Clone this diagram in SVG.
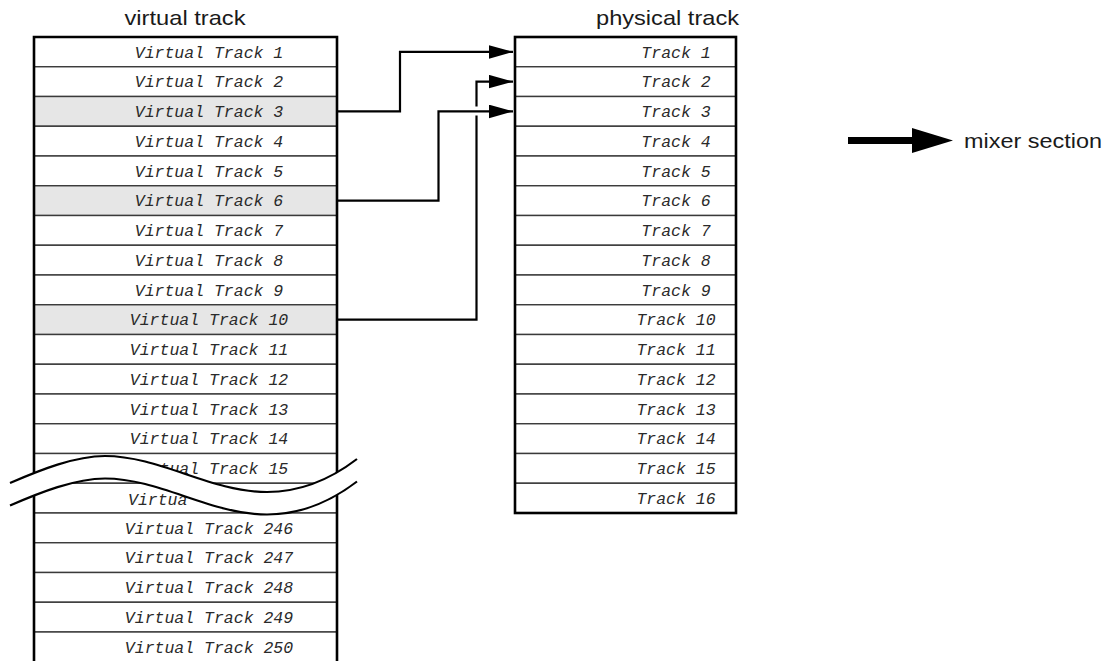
<svg xmlns="http://www.w3.org/2000/svg" width="1115" height="661" viewBox="0 0 1115 661">
  <defs>
    <style>
      .title { font-family: "Liberation Sans", Arial, sans-serif; font-size: 21px; fill: #1a1a1a; }
      .cell { fill: #ffffff; stroke: #3a3a3a; stroke-width: 1.4; }
      .cell.sel { fill: #e6e6e6; }
      .lbl { font-family: "Liberation Mono", "Courier New", monospace; font-style: italic; font-size: 16.5px; fill: #2a2a2a; text-anchor: middle; }
      .frame { fill: none; stroke: #000; stroke-width: 2.6; }
      .wire { fill: none; stroke: #000; stroke-width: 2.2; }
      .brk { fill: none; stroke: #000; stroke-width: 2.2; }
    </style>
    <marker id="head" markerUnits="userSpaceOnUse" markerWidth="26" markerHeight="14" refX="24" refY="6.75" orient="auto">
      <path d="M0,0 L24,6.75 L0,13.5 Z" fill="#000"/>
    </marker>
  </defs>
  <rect width="1115" height="661" fill="#fff"/>

  <!-- column titles -->
  <text class="title" x="185" y="25" text-anchor="middle" textLength="121" lengthAdjust="spacingAndGlyphs">virtual track</text>
  <text class="title" x="667.5" y="25" text-anchor="middle" textLength="143" lengthAdjust="spacingAndGlyphs">physical track</text>

  <!-- virtual track list -->
  <g id="virtual-tracks">
    <g id="vt-1"><rect class="cell" x="34" y="37" width="303" height="29.75"/><text class="lbl" x="209" y="57.7">Virtual Track 1</text></g>
    <g id="vt-2"><rect class="cell" x="34" y="66.75" width="303" height="29.75"/><text class="lbl" x="209" y="87.45">Virtual Track 2</text></g>
    <g id="vt-3"><rect class="cell sel" x="34" y="96.5" width="303" height="29.75"/><text class="lbl" x="209" y="117.2">Virtual Track 3</text></g>
    <g id="vt-4"><rect class="cell" x="34" y="126.25" width="303" height="29.75"/><text class="lbl" x="209" y="146.95">Virtual Track 4</text></g>
    <g id="vt-5"><rect class="cell" x="34" y="156" width="303" height="29.75"/><text class="lbl" x="209" y="176.7">Virtual Track 5</text></g>
    <g id="vt-6"><rect class="cell sel" x="34" y="185.75" width="303" height="29.75"/><text class="lbl" x="209" y="206.45">Virtual Track 6</text></g>
    <g id="vt-7"><rect class="cell" x="34" y="215.5" width="303" height="29.75"/><text class="lbl" x="209" y="236.2">Virtual Track 7</text></g>
    <g id="vt-8"><rect class="cell" x="34" y="245.25" width="303" height="29.75"/><text class="lbl" x="209" y="265.95">Virtual Track 8</text></g>
    <g id="vt-9"><rect class="cell" x="34" y="275" width="303" height="29.75"/><text class="lbl" x="209" y="295.7">Virtual Track 9</text></g>
    <g id="vt-10"><rect class="cell sel" x="34" y="304.75" width="303" height="29.75"/><text class="lbl" x="209" y="325.45">Virtual Track 10</text></g>
    <g id="vt-11"><rect class="cell" x="34" y="334.5" width="303" height="29.75"/><text class="lbl" x="209" y="355.2">Virtual Track 11</text></g>
    <g id="vt-12"><rect class="cell" x="34" y="364.25" width="303" height="29.75"/><text class="lbl" x="209" y="384.95">Virtual Track 12</text></g>
    <g id="vt-13"><rect class="cell" x="34" y="394" width="303" height="29.75"/><text class="lbl" x="209" y="414.7">Virtual Track 13</text></g>
    <g id="vt-14"><rect class="cell" x="34" y="423.75" width="303" height="29.75"/><text class="lbl" x="209" y="444.45">Virtual Track 14</text></g>
    <g id="vt-15"><rect class="cell" x="34" y="453.5" width="303" height="29.75"/><text class="lbl" x="209" y="474.2">Virtual Track 15</text></g>
    <g id="vt-16"><rect class="cell" x="34" y="483.25" width="303" height="29.75"/><text class="lbl" x="128" y="505" style="text-anchor:start">Virtua</text></g>
    <g id="vt-246"><rect class="cell" x="34" y="513" width="303" height="29.75"/><text class="lbl" x="209" y="533.7">Virtual Track 246</text></g>
    <g id="vt-247"><rect class="cell" x="34" y="542.75" width="303" height="29.75"/><text class="lbl" x="209" y="563.45">Virtual Track 247</text></g>
    <g id="vt-248"><rect class="cell" x="34" y="572.5" width="303" height="29.75"/><text class="lbl" x="209" y="593.2">Virtual Track 248</text></g>
    <g id="vt-249"><rect class="cell" x="34" y="602.25" width="303" height="29.75"/><text class="lbl" x="209" y="622.95">Virtual Track 249</text></g>
    <g id="vt-250"><rect class="cell" x="34" y="632" width="303" height="35"/><text class="lbl" x="209" y="652.7">Virtual Track 250</text></g>
    <path class="frame" d="M34,665 V37 H337 V665"/>
  </g>

  <!-- break mark across the virtual list -->
  <g id="break">
    <path d="M10,483 C40,470 75,456 105,456 C160,456 210,492 267,492 C310,492 340,472 357,459 L357,481.5 C340,494.5 310,514.5 267,514.5 C210,514.5 160,478.5 105,478.5 C75,478.5 40,492.5 10,505.5 Z" fill="#fff"/>
    <path class="brk" d="M10,483 C40,470 75,456 105,456 C160,456 210,492 267,492 C310,492 340,472 357,459"/>
    <path class="brk" d="M10,505.5 C40,492.5 75,478.5 105,478.5 C160,478.5 210,514.5 267,514.5 C310,514.5 340,494.5 357,481.5"/>
  </g>

  <!-- physical track list -->
  <g id="physical-tracks">
    <g id="pt-1"><rect class="cell" x="515" y="37" width="221" height="29.75"/><text class="lbl" x="676" y="57.7">Track 1</text></g>
    <g id="pt-2"><rect class="cell" x="515" y="66.75" width="221" height="29.75"/><text class="lbl" x="676" y="87.45">Track 2</text></g>
    <g id="pt-3"><rect class="cell" x="515" y="96.5" width="221" height="29.75"/><text class="lbl" x="676" y="117.2">Track 3</text></g>
    <g id="pt-4"><rect class="cell" x="515" y="126.25" width="221" height="29.75"/><text class="lbl" x="676" y="146.95">Track 4</text></g>
    <g id="pt-5"><rect class="cell" x="515" y="156" width="221" height="29.75"/><text class="lbl" x="676" y="176.7">Track 5</text></g>
    <g id="pt-6"><rect class="cell" x="515" y="185.75" width="221" height="29.75"/><text class="lbl" x="676" y="206.45">Track 6</text></g>
    <g id="pt-7"><rect class="cell" x="515" y="215.5" width="221" height="29.75"/><text class="lbl" x="676" y="236.2">Track 7</text></g>
    <g id="pt-8"><rect class="cell" x="515" y="245.25" width="221" height="29.75"/><text class="lbl" x="676" y="265.95">Track 8</text></g>
    <g id="pt-9"><rect class="cell" x="515" y="275" width="221" height="29.75"/><text class="lbl" x="676" y="295.7">Track 9</text></g>
    <g id="pt-10"><rect class="cell" x="515" y="304.75" width="221" height="29.75"/><text class="lbl" x="676" y="325.45">Track 10</text></g>
    <g id="pt-11"><rect class="cell" x="515" y="334.5" width="221" height="29.75"/><text class="lbl" x="676" y="355.2">Track 11</text></g>
    <g id="pt-12"><rect class="cell" x="515" y="364.25" width="221" height="29.75"/><text class="lbl" x="676" y="384.95">Track 12</text></g>
    <g id="pt-13"><rect class="cell" x="515" y="394" width="221" height="29.75"/><text class="lbl" x="676" y="414.7">Track 13</text></g>
    <g id="pt-14"><rect class="cell" x="515" y="423.75" width="221" height="29.75"/><text class="lbl" x="676" y="444.45">Track 14</text></g>
    <g id="pt-15"><rect class="cell" x="515" y="453.5" width="221" height="29.75"/><text class="lbl" x="676" y="474.2">Track 15</text></g>
    <g id="pt-16"><rect class="cell" x="515" y="483.25" width="221" height="29.75"/><text class="lbl" x="676" y="503.95">Track 16</text></g>
    <rect class="frame" x="515" y="37" width="221" height="476"/>
  </g>

  <!-- assignments: virtual track -> physical track -->
  <g id="connectors">
    <path class="wire" d="M337,111.4 H400 V51.9 H513" marker-end="url(#head)"/>
    <path class="wire" d="M337,200.6 H438.5 V111.4 H513" marker-end="url(#head)"/>
    <path class="wire" d="M337,319.6 H476.5 V115.5 M476.5,106.5 V81.6 H513" marker-end="url(#head)"/>
  </g>

  <!-- output to the mixer -->
  <g id="mixer-section">
    <path d="M848,140.5 H914" stroke="#000" stroke-width="7" fill="none"/>
    <path d="M912,128 L953,140.5 L912,153 Z" fill="#000"/>
    <text class="title" x="964" y="148" textLength="138" lengthAdjust="spacingAndGlyphs">mixer section</text>
  </g>
</svg>
